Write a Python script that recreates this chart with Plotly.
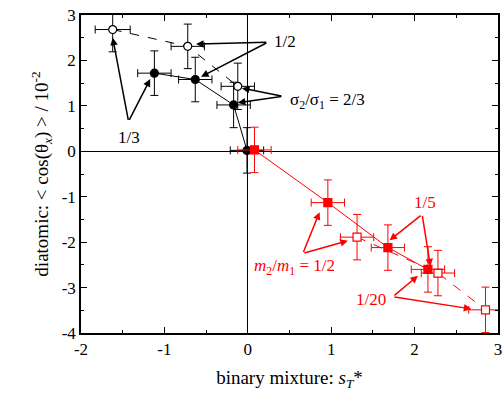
import plotly.graph_objects as go

# black filled circles (solid line)
bf_x = [-1.12, -0.63, -0.17, -0.01]
bf_y = [1.72, 1.58, 1.02, 0.02]
bf_xerr = [0.2, 0.2, 0.2, 0.2]
bf_yerr = [0.49, 0.49, 0.5, 0.5]

# black open circles (dashed line)
bo_x = [-1.62, -0.72, -0.12]
bo_y = [2.68, 2.31, 1.43]
bo_xerr = [0.21, 0.2, 0.2]
bo_yerr = [0.49, 0.49, 0.51]

# red filled squares (solid line)
rf_x = [0.08, 0.96, 1.68, 2.16]
rf_y = [0.03, -1.13, -2.12, -2.6]
rf_xerr = [0.2, 0.2, 0.2, 0.2]
rf_yerr = [0.5, 0.5, 0.5, 0.5]

# red open squares (dashed line)
ro_x = [1.31, 2.28, 2.85]
ro_y = [-1.89, -2.68, -3.49]
ro_xerr = [0.2, 0.2, 0.2]
ro_yerr = [0.5, 0.5, 0.5]

# tick values / labels
x_ticks = [-2, -1, 0, 1, 2, 3]
x_ticklabels = ["-2", "-1", "0", "1", "2", "3"]
y_ticks = [-4, -3, -2, -1, 0, 1, 2, 3]
y_ticklabels = ["-4", "-3", "-2", "-1", "0", "1", "2", "3"]

BLK = "#000000"
RED = "#ff0000"
FONT = "Liberation Serif, Times New Roman, Times, serif"

fig = go.Figure()

def add(x, y, xe, ye, color, symbol, dash, fill):
    fig.add_trace(go.Scatter(
        x=x, y=y, mode="lines+markers",
        line=dict(color=color, width=1, dash=dash),
        marker=dict(symbol=symbol, size=8, color=fill,
                    line=dict(color=color, width=1.2)),
        error_x=dict(type="data", array=xe, color=color, thickness=1, width=4),
        error_y=dict(type="data", array=ye, color=color, thickness=1, width=4),
        showlegend=False,
    ))

add(bo_x, bo_y, bo_xerr, bo_yerr, BLK, "circle", "dash", "white")
add(bf_x, bf_y, bf_xerr, bf_yerr, BLK, "circle", "solid", BLK)
add(ro_x, ro_y, ro_xerr, ro_yerr, RED, "square", "dash", "white")
add(rf_x, rf_y, rf_xerr, rf_yerr, RED, "square", "solid", RED)

annotations = []

def arrow(tx, ty, hx, hy, color):
    annotations.append(dict(
        x=hx, y=hy, ax=tx, ay=ty, xref="x", yref="y", axref="x", ayref="y",
        text="", showarrow=True, arrowhead=2, arrowsize=1, arrowwidth=1.5,
        arrowcolor=color, standoff=0, startstandoff=0))

def label(x, y, text, color):
    annotations.append(dict(
        x=x, y=y, xref="x", yref="y", text=text, showarrow=False,
        font=dict(family=FONT, size=17, color=color)))

# black labels
label(0.44, 2.41, "1/2", BLK)
arrow(0.24, 2.40, -0.62, 2.36, BLK)
arrow(0.24, 2.40, -0.56, 1.64, BLK)
label(0.95, 1.11, "σ<sub>2</sub>/σ<sub>1</sub> = 2/3", BLK)
arrow(0.42, 1.21, -0.07, 1.39, BLK)
arrow(0.42, 1.21, -0.12, 1.07, BLK)
label(-1.42, 0.31, "1/3", BLK)
arrow(-1.43, 0.66, -1.62, 2.50, BLK)
arrow(-1.43, 0.66, -1.17, 1.59, BLK)

# red labels
label(2.12, -1.12, "1/5", RED)
arrow(2.09, -1.39, 1.70, -1.96, RED)
arrow(2.09, -1.39, 2.19, -2.53, RED)
label(0.56, -2.54, "<i>m</i><sub>2</sub>/<i>m</i><sub>1</sub> = 1/2", RED)
arrow(0.66, -2.25, 0.86, -1.34, RED)
arrow(0.66, -2.25, 1.20, -1.97, RED)
label(1.48, -3.27, "1/20", RED)
arrow(1.74, -3.20, 2.04, -2.74, RED)
arrow(1.74, -3.20, 2.68, -3.47, RED)

axis_common = dict(
    showgrid=False, zeroline=True, zerolinecolor=BLK, zerolinewidth=1.3,
    showline=True, linecolor=BLK, linewidth=1.5, mirror="allticks",
    ticks="inside", ticklen=6, tickwidth=1, tickcolor=BLK,
    minor=dict(ticks="inside", ticklen=3, tickwidth=1, tickcolor=BLK, dtick=0.5),
    tickfont=dict(family=FONT, size=17, color=BLK),
    ticklabeloverflow="allow",
    automargin=False,
)

fig.update_xaxes(range=[-2, 3], tickmode="array", tickvals=x_ticks, ticktext=x_ticklabels,
                 title=dict(text="binary mixture: <i>s<sub>T</sub></i>*",
                            font=dict(family=FONT, size=19, color=BLK), standoff=13),
                 **axis_common)
fig.update_yaxes(range=[-4, 3], tickmode="array", tickvals=y_ticks, ticktext=y_ticklabels,
                 title=dict(text="diatomic: < cos(θ<sub><i>x</i></sub>) > / 10<sup>-2</sup>",
                            font=dict(family=FONT, size=19, color=BLK), standoff=8),
                 **axis_common)

fig.update_layout(
    width=504, height=400,
    margin=dict(l=81, r=6, t=15, b=67),
    plot_bgcolor="white", paper_bgcolor="white",
    annotations=annotations,
)

fig.write_html(
    "out.html",
    config={"displayModeBar": False},
    post_script="document.body.style.margin='0';document.body.style.overflow='hidden';",
)
